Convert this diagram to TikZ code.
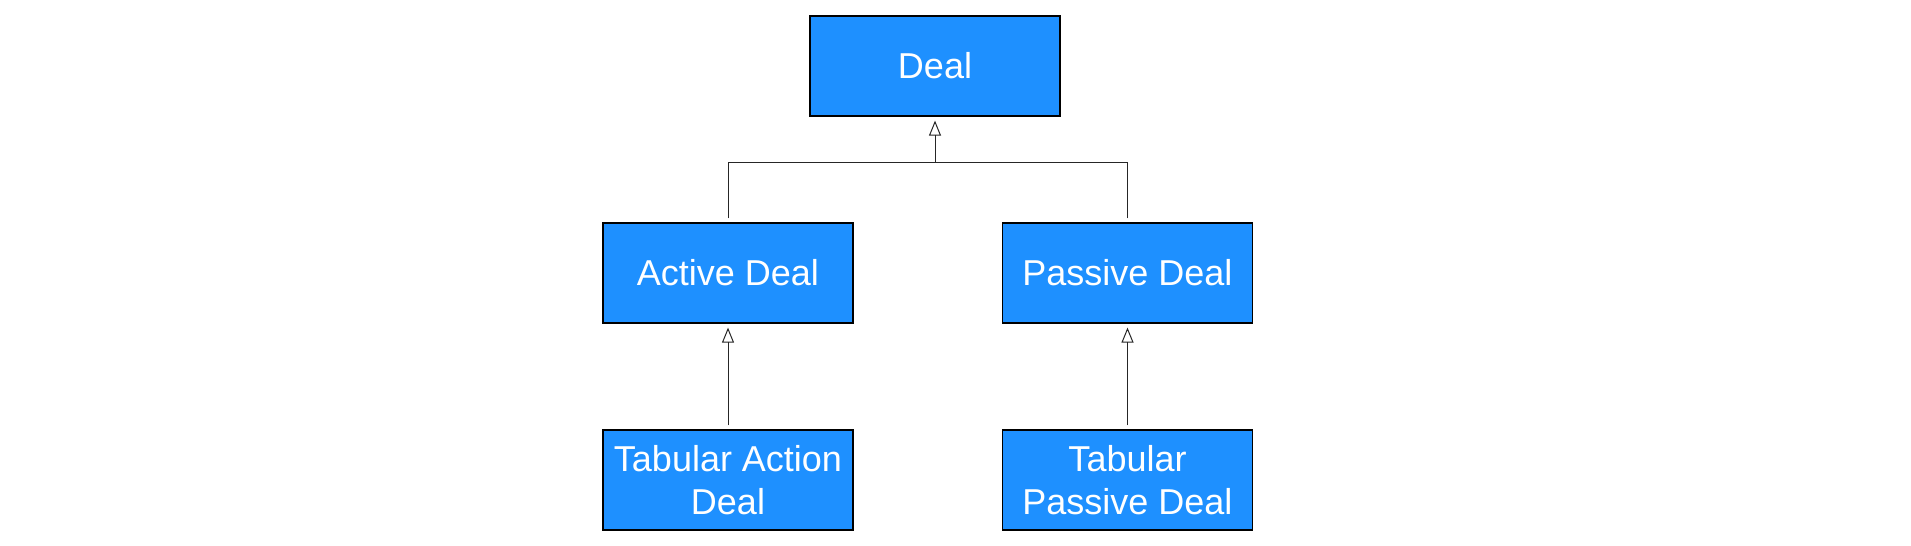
\documentclass[tikz,border=0pt]{standalone}
\usepackage{fontspec}
\setmainfont{Liberation Sans}
\usetikzlibrary{arrows.meta}
\definecolor{dealblue}{RGB}{30,144,255}

\begin{document}
\begin{tikzpicture}
        [x=0.5pt,y=-0.5pt,every node/.style={draw=black,fill=dealblue,text=white,line width=0.6pt,minimum width=125pt,minimum height=50pt,inner sep=0,align=center,font=\fontsize{18}{21.5}\selectfont}, link/.style={line width=0.5pt, black!85}]

        \useasboundingbox (0,0) rectangle (1911,546);

        \node (deal) at (935, 66) {Deal};
        \node (active) at (728, 273) {Active Deal};
        \node (passive) at (1127.5, 273) {Passive Deal};
        \node (tabact) at (728, 480) {Tabular Action\\Deal};
        \node (tabpas) at (1127.5, 480) {Tabular\\Passive Deal};
        \coordinate (joint) at (935, 162);

        \draw[link, shorten <=2pt] (active.north) |- (joint);
        \draw[link, shorten <=2pt] (passive.north) |- (joint);
        \draw[link, -{Triangle[open,length=7.5pt,width=6pt]}, shorten >=2pt] (joint) -- (deal.south);
        \draw[link, -{Triangle[open,length=7.5pt,width=6pt]}, shorten <=2pt, shorten >=2pt] (tabact) -- (active);
        \draw[link, -{Triangle[open,length=7.5pt,width=6pt]}, shorten <=2pt, shorten >=2pt] (tabpas) -- (passive);

      \end{tikzpicture}
\end{document}
